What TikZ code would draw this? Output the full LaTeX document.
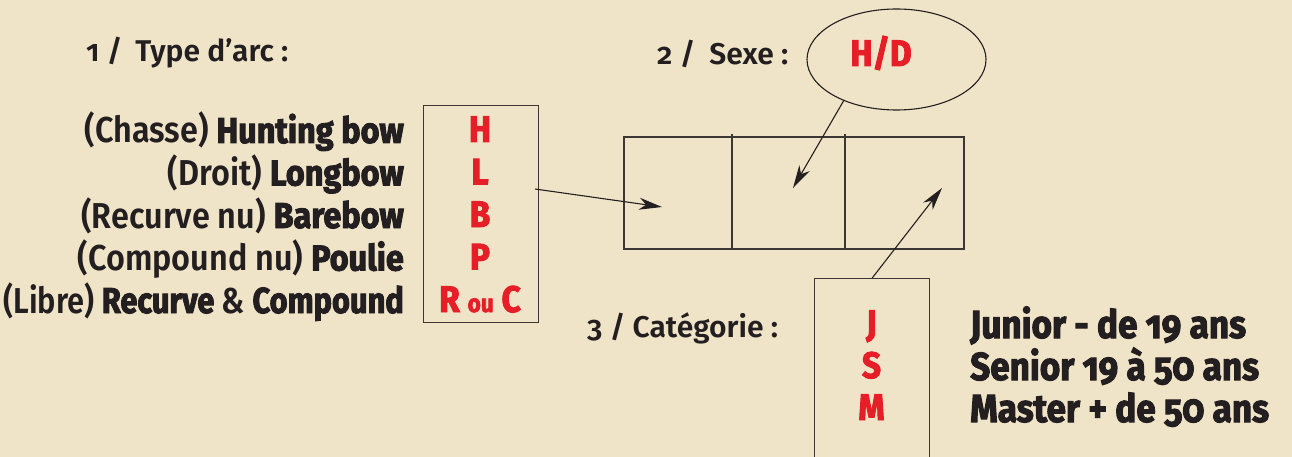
\documentclass[tikz,border=0pt]{standalone}
\usepackage{fontspec}
\setmainfont{Fira Sans}[Numbers=OldStyle, UprightFont=* SemiBold, BoldFont=* Bold, BoldFeatures={FakeBold=2.6}, FakeStretch=0.9]
\newfontfamily\titlefont{Fira Sans}[Numbers=OldStyle, UprightFont=* SemiBold]
\usetikzlibrary{arrows.meta,shapes.geometric}
\definecolor{bg}{RGB}{240,228,200}
\definecolor{ink}{RGB}{35,31,32}
\definecolor{redc}{RGB}{230,30,40}
\definecolor{linec}{RGB}{60,55,50}
\tikzset{
  title/.style={font=\titlefont\fontsize{30}{30}\selectfont, text=ink, inner sep=0pt, anchor=base west},
  item/.style={font=\fontsize{36}{36}\selectfont, text=ink, inner sep=0pt, anchor=base east},
  agetxt/.style={font=\fontsize{39}{39}\selectfont\bfseries, text=ink, inner sep=0pt, anchor=base west},
  code/.style={font=\fontsize{37}{37}\selectfont\bfseries, text=redc, inner sep=0pt, anchor=base},
  boxline/.style={draw=linec, line width=1.4pt},
  conn/.style={draw=ink, line width=1.1pt, -{Stealth[length=23pt,width=12pt,inset=7pt]}}
}
\begin{document}
\begin{tikzpicture}[x=1pt,y=-1pt]
\useasboundingbox (0,0) rectangle (1292,457);
\fill[bg] (0,0) rectangle (1292,457);
\clip (0,0) rectangle (1292,457);
% titles
\node[title] (t1) at (86,62) {1 /\hspace{13pt}Type d’arc :};
\node[title] (t2) at (657,65) {2 /\hspace{14pt}Sexe :};
\node[title] (t3) at (587,337) {3 / Catégorie :};
% bow type box
\node[boxline, minimum width=115pt, minimum height=217pt, anchor=north west, inner sep=0pt] (arcbox) at (423,105) {};
\node[item] (i1) at (404,143) {(Chasse) \textbf{Hunting bow}};
\node[item] (i2) at (404,185.5) {(Droit) \textbf{Longbow}};
\node[item] (i3) at (404,228) {(Recurve nu) \textbf{Barebow}};
\node[item] (i4) at (404,270.5) {(Compound nu) \textbf{Poulie}};
\node[item] (i5) at (404,313) {\scalebox{0.95}[1]{(Libre) \textbf{Recurve} \& \textbf{Compound}}};
\node[code] (cH) at (480,142) {H};
\node[code] (cL) at (480,184.5) {L};
\node[code] (cB) at (480,227) {B};
\node[code] (cP) at (480,269.5) {P};
\node[code] (cRC) at (480,312) {R {\fontsize{25}{25}\selectfont ou} C};
% license grid
\node[boxline, minimum width=340pt, minimum height=112pt, inner sep=0pt] (grid) at (794,193) {};
\draw[boxline] (732,134) -- (732,249);
\draw[boxline] (845,134) -- (845,249);
% sex ellipse
\node[draw=ink, line width=1.1pt, ellipse, minimum width=179pt, minimum height=101pt, inner sep=0pt] (hd) at (896.5,59.5) {};
\node[code] (hdt) at (881,66) {H/D};
% category box
\node[boxline, minimum width=115pt, minimum height=230pt, anchor=north west, inner sep=0pt] (catbox) at (814,278) {};
\node[code] (cJ) at (871.5,336) {J};
\node[code] (cS) at (871.5,378) {S};
\node[code] (cM) at (871.5,420) {M};
\node[agetxt] (a1) at (970,338) {Junior - de 19 ans};
\node[agetxt] (a2) at (970,380) {Senior 19 à 50 ans};
\node[agetxt] (a3) at (970,422) {Master + de 50 ans};
% connectors
\coordinate (s1) at (535,189);
\coordinate (e1) at (662,207);
\coordinate (e2) at (793,188);
\coordinate (e3) at (942,188);
\draw[conn] (s1) -- (e1);
\draw[conn] (hd.218) -- (e2);
\draw[conn] (catbox.north) -- (e3);
\end{tikzpicture}
\end{document}
